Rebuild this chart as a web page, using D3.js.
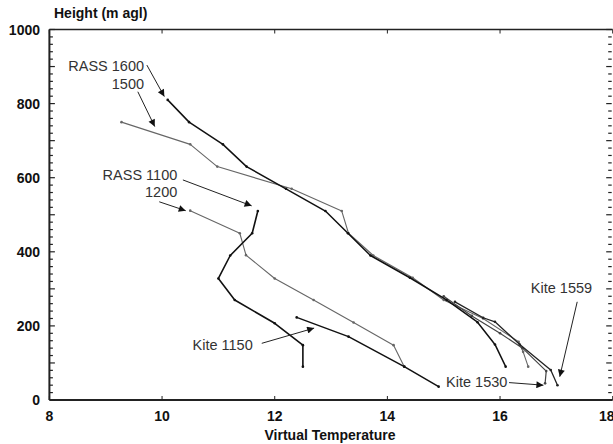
<!DOCTYPE html>
<html>
<head>
<meta charset="utf-8">
<script src="https://cdn.jsdelivr.net/npm/d3@7"></script>
<style>
  body { margin: 0; background: #fff; }
  svg { display: block; font-family: "Liberation Sans", Arial, sans-serif; }
</style>
</head>
<body>
<svg id="chart" width="613" height="444"></svg>
<script>
// profiles: [virtual temperature, height m agl]
var rass1600 = [[10.1, 810], [10.48, 750], [11.08, 690], [11.5, 630], [12.2, 570], [12.9, 510],
                [13.3, 450], [13.7, 390], [14.4, 330], [15.05, 270], [15.6, 210], [15.91, 150], [16.1, 90]];
var rass1500 = [[9.28, 750], [10.5, 690], [10.98, 630], [12.3, 570], [13.19, 510], [13.31, 450],
                [13.75, 390], [14.45, 330], [15.0, 270], [15.7, 220], [16.33, 157], [16.41, 130], [16.5, 90]];
var rass1100 = [[11.7, 510], [11.6, 450], [11.21, 390], [11.0, 328], [11.29, 270], [12.0, 207],
                [12.5, 148], [12.5, 90]];
var rass1200 = [[10.5, 511], [11.38, 450], [11.49, 391], [12.0, 328], [12.69, 270], [13.4, 209],
                [14.11, 148], [14.3, 90]];
var kite1150 = [[12.39, 223], [13.31, 171], [14.3, 90], [14.91, 36]];
var kite1530 = [[16.8, 45], [16.82, 78], [16.4, 140], [16.0, 180], [15.5, 227], [15.0, 280]];
var kite1559 = [[17.02, 40], [16.9, 81], [16.35, 150], [15.91, 211], [15.7, 222], [15.2, 265]];

var xTicks = [8, 10, 12, 14, 16, 18];
var yTicks = [0, 200, 400, 600, 800, 1000];

var series = [
    {data: rass1500, color: "#666", width: 1.1},
    {data: rass1200, color: "#666", width: 1.1},
    {data: kite1530, color: "#444", width: 1.2},
    {data: rass1600, color: "#111", width: 1.5},
    {data: rass1100, color: "#111", width: 1.6},
    {data: kite1150, color: "#111", width: 1.5},
    {data: kite1559, color: "#222", width: 1.3}
];

// label text, anchor, label x/y, arrow from -> to (in data units)
var notes = [
    {text: "RASS 1600", anchor: "end", at: [9.68, 888], from: [9.73, 904], to: [10.04, 819]},
    {text: "1500", anchor: "end", at: [9.68, 840], from: [9.57, 832], to: [9.87, 738]},
    {text: "RASS 1100", anchor: "end", at: [10.27, 595], from: [10.37, 594], to: [11.59, 524]},
    {text: "1200", anchor: "end", at: [10.27, 549], from: [9.95, 535], to: [10.42, 511]},
    {text: "Kite 1150", anchor: "end", at: [11.61, 135], from: [11.77, 153], to: [12.7, 194]},
    {text: "Kite 1559", anchor: "middle", at: [17.09, 289], from: [17.37, 265], to: [17.06, 63]},
    {text: "Kite 1530", anchor: "end", at: [16.13, 35], from: [16.16, 47], to: [16.77, 40]}
];

var svg = d3.select("#chart");

var x = d3.scaleLinear().domain([8, 18]).range([49.4, 612.7]),
    y = d3.scaleLinear().domain([0, 1000]).range([400, 29.5]);

svg.append("defs").append("marker")
    .attr("id", "head")
    .attr("viewBox", "0 0 10 10")
    .attr("refX", 10).attr("refY", 5)
    .attr("markerWidth", 9).attr("markerHeight", 7)
    .attr("markerUnits", "userSpaceOnUse")
    .attr("orient", "auto")
    .append("path")
    .attr("d", "M0,0L10,5L0,10z")
    .attr("fill", "#111");

// frame ===================================================================
var frame = svg.append("g").attr("stroke", "#222").attr("fill", "none");

frame.append("line")
    .attr("x1", x(8)).attr("x2", x(18)).attr("y1", y(0)).attr("y2", y(0))
    .attr("stroke-width", 2);
frame.append("line")
    .attr("x1", x(8)).attr("x2", x(18)).attr("y1", y(1000)).attr("y2", y(1000))
    .attr("stroke-width", 1.5);
frame.append("line")
    .attr("x1", x(8)).attr("x2", x(8)).attr("y1", y(0)).attr("y2", y(1000))
    .attr("stroke-width", 2);

var yMinor = d3.range(0, 1001, 20);
frame.selectAll(".yl").data(yMinor).enter().append("line")
    .attr("x1", x(8))
    .attr("x2", function(d) { return x(8) + (d % 100 === 0 ? 5.5 : 3.5); })
    .attr("y1", function(d) { return y(d); })
    .attr("y2", function(d) { return y(d); })
    .attr("stroke-width", 1.2);
frame.selectAll(".yr").data(yMinor).enter().append("line")
    .attr("x1", x(18) - 1)
    .attr("x2", function(d) { return x(18) - 1 - (d % 100 === 0 ? 5.5 : 3.5); })
    .attr("y1", function(d) { return y(d); })
    .attr("y2", function(d) { return y(d); })
    .attr("stroke-width", 1.2);

frame.selectAll(".xb").data(xTicks).enter().append("line")
    .attr("x1", function(d) { return x(d); })
    .attr("x2", function(d) { return x(d); })
    .attr("y1", y(0)).attr("y2", y(0) - 4)
    .attr("stroke-width", 1);
frame.selectAll(".xt").data(xTicks).enter().append("line")
    .attr("x1", function(d) { return x(d); })
    .attr("x2", function(d) { return x(d); })
    .attr("y1", y(1000)).attr("y2", y(1000) + 4)
    .attr("stroke-width", 1);

// the last label sits against the page edge, as in the original
svg.selectAll(".xlab").data(xTicks).enter().append("text")
    .attr("x", function(d) { return x(d); })
    .attr("dx", function(d) { return d === 18 ? -6 : 0; })
    .attr("y", 421)
    .attr("text-anchor", "middle")
    .attr("font-size", 14).attr("font-weight", "bold").attr("fill", "#111")
    .text(function(d) { return d; });

svg.selectAll(".ylab").data(yTicks).enter().append("text")
    .attr("x", 40)
    .attr("y", function(d) { return y(d) + 5; })
    .attr("text-anchor", "end")
    .attr("font-size", 14).attr("font-weight", "bold").attr("fill", "#111")
    .text(function(d) { return d; });

svg.append("text")
    .attr("x", 54).attr("y", 18)
    .attr("font-size", 14).attr("font-weight", "bold").attr("fill", "#111")
    .text("Height (m agl)");

svg.append("text")
    .attr("x", 330).attr("y", 440)
    .attr("text-anchor", "middle")
    .attr("font-size", 14).attr("font-weight", "bold").attr("fill", "#111")
    .text("Virtual Temperature");

// profiles ================================================================
var line = d3.line()
    .x(function(d) { return x(d[0]); })
    .y(function(d) { return y(d[1]); });

var prof = svg.selectAll(".profile").data(series).enter().append("g")
    .attr("class", "profile");

prof.append("path")
    .attr("d", function(d) { return line(d.data); })
    .attr("fill", "none")
    .attr("stroke", function(d) { return d.color; })
    .attr("stroke-width", function(d) { return d.width; })
    .attr("stroke-linejoin", "round");

prof.selectAll("circle")
    .data(function(d) { return d.data.map(function(p) { return {p: p, c: d.color}; }); })
    .enter().append("circle")
    .attr("cx", function(d) { return x(d.p[0]); })
    .attr("cy", function(d) { return y(d.p[1]); })
    .attr("r", 1.3)
    .attr("fill", function(d) { return d.c; });

// annotations =============================================================
var note = svg.selectAll(".note").data(notes).enter().append("g")
    .attr("class", "note");

note.append("text")
    .attr("x", function(d) { return x(d.at[0]); })
    .attr("y", function(d) { return y(d.at[1]); })
    .attr("text-anchor", function(d) { return d.anchor; })
    .attr("font-size", 14.5).attr("fill", "#333")
    .text(function(d) { return d.text; });

note.append("line")
    .attr("x1", function(d) { return x(d.from[0]); })
    .attr("y1", function(d) { return y(d.from[1]); })
    .attr("x2", function(d) { return x(d.to[0]); })
    .attr("y2", function(d) { return y(d.to[1]); })
    .attr("stroke", "#222").attr("stroke-width", 1)
    .attr("marker-end", "url(#head)");
</script>
</body>
</html>
